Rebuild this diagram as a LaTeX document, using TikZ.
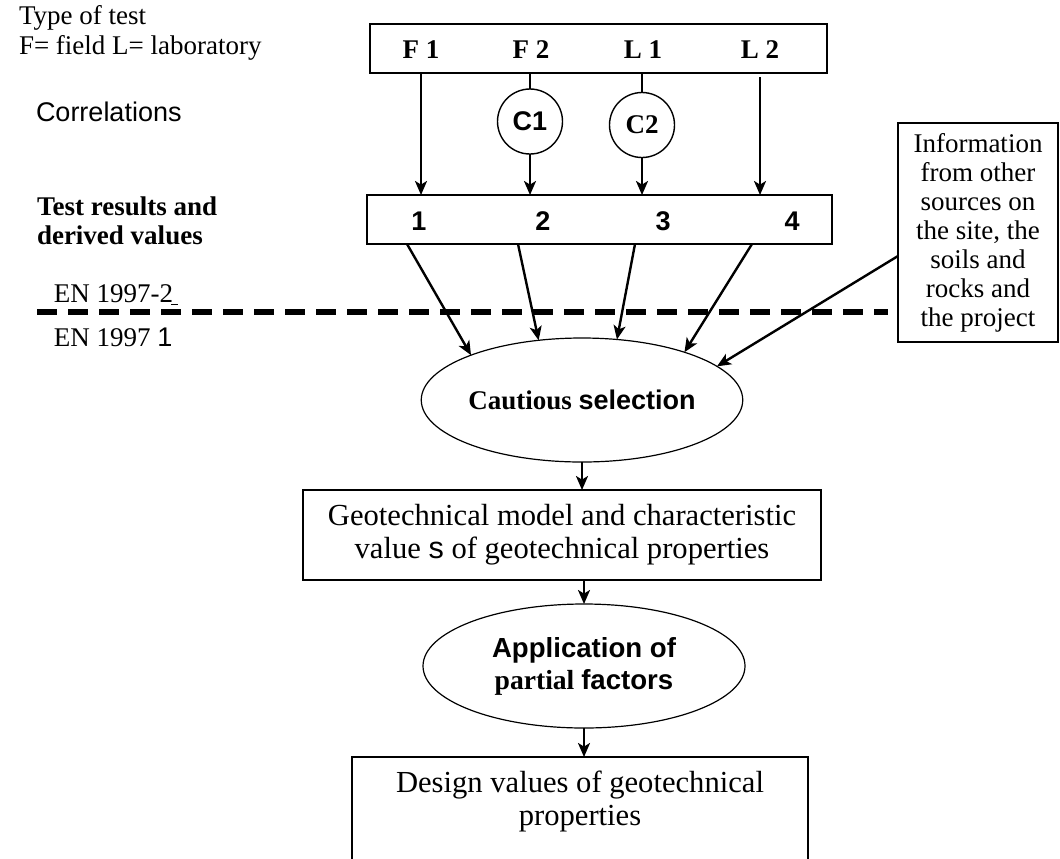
\documentclass[tikz,border=0pt]{standalone}
\usepackage{fontspec}
\setmainfont{Liberation Serif}
\newfontfamily\arial{Liberation Sans}
\usetikzlibrary{arrows.meta,shapes.geometric}
\begin{document}
\begin{tikzpicture}[x=0.5pt,y=-0.5pt,
  every node/.style={font=\fontsize{13.5}{15}\selectfont, inner sep=0pt, outer sep=0pt},
  box/.style={draw, line width=0.75pt, rectangle},
  oval/.style={draw, ellipse, line width=0.6pt},
  corr/.style={draw, circle, line width=0.7pt, minimum size=32.5pt},
  arr/.style={line width=1.2pt, -{Stealth[length=7pt,width=6pt,inset=1.8pt]}},
  link/.style={line width=1.2pt},
  lbl/.style={font=\fontsize{13.5}{15}\selectfont\bfseries},
  num/.style={font=\fontsize{13.5}{15}\selectfont\arial\bfseries},
]
\useasboundingbox (0,0) rectangle (1060,858);
\clip (0,0) rectangle (1060,858);

% left side labels
\node[anchor=west, align=left] (type) at (19,33) {Type of test\\F= field L= laboratory};
\node[anchor=west, font=\fontsize{13.5}{15}\selectfont\arial] (corrl) at (36,112) {Correlations};
\node[anchor=west, align=left, font=\fontsize{13.5}{14.5}\selectfont\bfseries] (testres) at (37,221) {Test results and\\derived values};
\node[anchor=west] (en2) at (54,295) {EN 1997-2\kern-1pt\rule[-1pt]{3.5pt}{0.5pt}};
\node[anchor=west] (en1) at (54,337) {EN 1997 {\arial 1}};
\coordinate (dl) at (37,312);
\coordinate (dr) at (888,312);
\draw[line width=3pt, dash pattern=on 10pt off 5.5pt] (dl) -- (dr);

% type of test box
\node[box, minimum width=228.5pt, minimum height=24.5pt] (tests) at (598.5,48.5) {};
\node[lbl] (f1) at (421,50) {F 1};
\node[lbl] (f2) at (531,50) {F 2};
\node[lbl] (l1) at (643,50) {L 1};
\node[lbl] (l2) at (760,50) {L 2};

% correlations
\node[corr, font=\fontsize{13.5}{15}\selectfont\arial\bfseries] (c1) at (530,121.5) {C1};
\node[corr, font=\fontsize{13.5}{15}\selectfont\bfseries] (c2) at (642,125) {C2};

% results box
\node[box, minimum width=232.5pt, minimum height=24.5pt] (res) at (599.5,219.5) {};
\node[num] (n1) at (419,221) {1};
\node[num] (n2) at (543,221) {2};
\node[num] (n3) at (663,221) {3};
\node[num] (n4) at (792,221) {4};

\draw[arr] (f1 |- tests.south) -- (f1 |- res.north);
\draw[link] (c1 |- tests.south) -- (c1.north);
\draw[arr] (c1.south) -- (c1 |- res.north);
\draw[link] (c2 |- tests.south) -- (c2.north);
\draw[arr] (c2.south) -- (c2 |- res.north);
\draw[arr, shorten <=2pt] (l2 |- tests.south) -- (l2 |- res.north);

% info box
\node[box, minimum width=80pt, minimum height=109.5pt, align=center, font=\fontsize{13.5}{14.5}\selectfont] (info) at (978,232.5) {Information\\from other\\sources on\\the site, the\\soils and\\rocks and\\the project};

% cautious selection
\node[oval, minimum width=159pt, minimum height=62pt] (sel) at (582,400) {{\bfseries Cautious} {\arial\bfseries selection}};

\draw[arr] ([xshift=20pt]res.south west) -- (sel.158);
\draw[arr] ([xshift=75.5pt]res.south west) -- (sel.126);
\draw[arr] ([xshift=134pt]res.south west) -- (sel.60);
\draw[arr] ([xshift=192.5pt]res.south west) -- (sel.25);
\draw[arr] ([yshift=-11.75pt]info.west) -- (sel.14);

% geotechnical model
\node[box, minimum width=259pt, minimum height=45pt, align=center, font=\fontsize{15.3}{16.5}\selectfont] (geo) at (562,535) {Geotechnical model and characteristic\\value {\arial s} of geotechnical properties};

% application of partial factors
\node[oval, minimum width=161pt, minimum height=62pt, align=center, font=\fontsize{13.8}{16}\selectfont\bfseries] (app) at (584,666) {{\arial Application of}\\partial {\arial factors}};

% design values
\node[box, minimum width=228pt, minimum height=70pt, anchor=north] (des) at (580,757) {};
\node[align=center, font=\fontsize{15.3}{16.5}\selectfont] (destxt) at (580,801) {Design values of geotechnical\\properties};

\draw[arr] (sel.south) -- (sel.south |- geo.north);
\draw[arr] (app.north |- geo.south) -- (app.north);
\draw[arr] (app.south) -- (app.south |- des.north);
\end{tikzpicture}
\end{document}
